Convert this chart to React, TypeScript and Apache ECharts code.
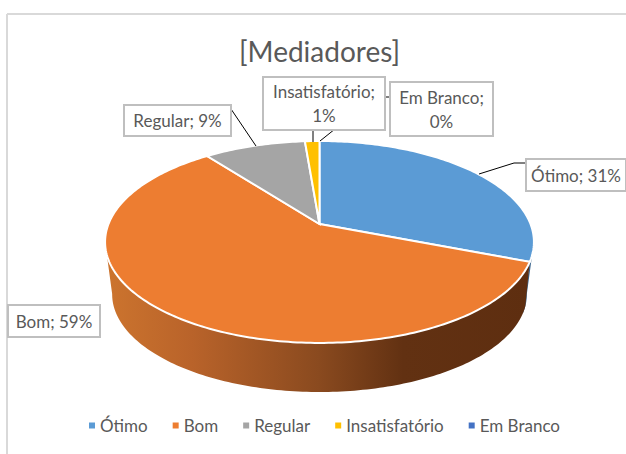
import React, { useEffect, useRef } from "react";
import * as echarts from "echarts";

const title = "[Mediadores]";
const categories = ["Ótimo", "Bom", "Regular", "Insatisfatório", "Em Branco"];
const shares = [30.9, 58.7, 9.1, 1.3, 0];
const colors = ["#5B9BD5", "#ED7D31", "#A5A5A5", "#FFC000", "#4472C4"];
const sideColors = ["#3A658E", "#8A4A1F", "#666666", "#997300", "#2A4578"];

const FONT = "Lato";
const TEXT = "#595959";
// part of the rim that faces the viewer, as fractions of the full turn
const RIM_START = 0.278;
const RIM_END = 0.722;
const CUT_SKEW = 0.012;

function topPoint(f: number): [number, number] {
  const t = 2 * Math.PI * f;
  const u = Math.sin(t);
  const v = -Math.cos(t);
  const d = 1 - 0.178 * v;
  return [319.5 + (211 * u) / d, (57.9 * v + 224) / d];
}
function lowPoint(f: number): [number, number] {
  const [x, y] = topPoint(f);
  return [319.5 + 0.967 * (x - 319.5), 277 + 0.967 * (y - 224)];
}
function arc(fn: (f: number) => [number, number], a: number, b: number) {
  const n = Math.max(2, Math.ceil((b - a) * 360));
  const pts: [number, number][] = [];
  for (let i = 0; i <= n; i++) pts.push(fn(a + ((b - a) * i) / n));
  return pts;
}

function sliceData(i: number) {
  const total = shares.reduce((s, x) => s + x, 0);
  const start = shares.slice(0, i).reduce((s, x) => s + x, 0);
  return [[start / total, shares[i] / total]];
}

const bomGradient = {
  type: "linear",
  global: true,
  x: 107,
  y: 0,
  x2: 530,
  y2: 0,
  colorStops: [
    { offset: 0, color: "#CC742E" },
    { offset: 0.2, color: "#B9632A" },
    { offset: 0.5, color: "#8A4A1F" },
    { offset: 0.7, color: "#623112" },
    { offset: 1, color: "#5E2E10" },
  ],
};

const boxes = [
  { i: 2, x: 124, y: 105, w: 107, h: 31, lines: 1 },
  { i: 4, x: 390, y: 82, w: 103, h: 54, lines: 2 },
  { i: 3, x: 263, y: 77, w: 122, h: 53, lines: 2 },
  { i: 0, x: 526, y: 159, w: 100, h: 32, lines: 1 },
  { i: 1, x: 8, y: 305, w: 92, h: 32, lines: 1 },
];
const leaders: [number, number][][] = [
  [[231, 109], [256, 146]],
  [[313, 130], [313, 142]],
  [[390, 97], [375, 97], [320, 141]],
  [[479, 174], [514, 163], [526, 163]],
];

export default function App() {
  const ref = useRef<HTMLDivElement>(null);
  useEffect(() => {
    document.body.style.margin = "0";
    const chart = echarts.init(ref.current!, null, { renderer: "svg" });
    const series: any[] = [];
    categories.forEach((name, i) => {
      series.push({
        type: "custom",
        name: "lado " + name,
        coordinateSystem: "none",
        silent: true,
        z: i === 1 ? 1.5 : 1,
        data: sliceData(i),
        renderItem: (_p: any, api: any) => {
          const a = Math.max(api.value(0), RIM_START);
          const b = Math.min(api.value(0) + api.value(1), RIM_END);
          if (b <= a) return undefined;
          const lowStart = i === 1 ? a - CUT_SKEW : a;
          const points = [...arc(topPoint, a, b), ...arc(lowPoint, lowStart, b).reverse()];
          return {
            type: "polygon",
            shape: { points },
            style: { fill: i === 1 ? bomGradient : sideColors[i], stroke: "none" },
          };
        },
      });
      series.push({
        type: "custom",
        name,
        coordinateSystem: "none",
        silent: true,
        z: 2,
        itemStyle: { color: colors[i] },
        data: sliceData(i),
        renderItem: (_p: any, api: any) => {
          const a = api.value(0);
          const b = a + api.value(1);
          if (b <= a) return undefined;
          const points = [[319.5, 224], ...arc(topPoint, a, b)];
          return {
            type: "polygon",
            shape: { points },
            style: { fill: colors[i], stroke: "#FFFFFF", lineWidth: 2 },
          };
        },
      });
    });

    const graphic: any[] = [
      { type: "line", z: 0, shape: { x1: 7, y1: 14, x2: 626, y2: 14 }, style: { stroke: "#D9D9D9", lineWidth: 2 } },
      { type: "line", z: 0, shape: { x1: 7, y1: 14, x2: 7, y2: 454 }, style: { stroke: "#D9D9D9", lineWidth: 2 } },
    ];
    leaders.forEach((pts) =>
      graphic.push({
        type: "polyline",
        z: 5,
        shape: { points: pts },
        style: { stroke: "#000000", lineWidth: 1, fill: "none" },
      })
    );
    boxes.forEach((b) => {
      graphic.push({
        type: "rect",
        z: 6,
        shape: { x: b.x, y: b.y, width: b.w, height: b.h },
        style: { fill: "#FFFFFF", stroke: "#BFBFBF", lineWidth: 2 },
      });
      const name = categories[b.i];
      const pct = `${Math.round(shares[b.i])}%`;
      graphic.push({
        type: "text",
        z: 7,
        x: b.x + b.w / 2,
        y: b.y + b.h / 2,
        style: {
          text: b.lines === 2 ? `${name};\n${pct}` : `${name}; ${pct}`,
          fill: TEXT,
          font: `17px ${FONT}`,
          align: "center",
          verticalAlign: "middle",
          lineHeight: 24,
        },
      });
    });

    chart.setOption({
      animation: false,
      backgroundColor: "#FFFFFF",
      title: {
        text: title,
        left: 234,
        top: 32,
        textStyle: { fontFamily: FONT, fontSize: 28, fontWeight: "normal", color: TEXT },
      },
      legend: {
        data: categories,
        left: 84,
        top: 412,
        icon: "rect",
        itemWidth: 6,
        itemHeight: 6,
        itemGap: 25,
        selectedMode: false,
        textStyle: { fontFamily: FONT, fontSize: 17, color: TEXT },
      },
      series,
      graphic,
    });
    return () => chart.dispose();
  }, []);
  return <div ref={ref} style={{ width: 626, height: 454 }} />;
}
